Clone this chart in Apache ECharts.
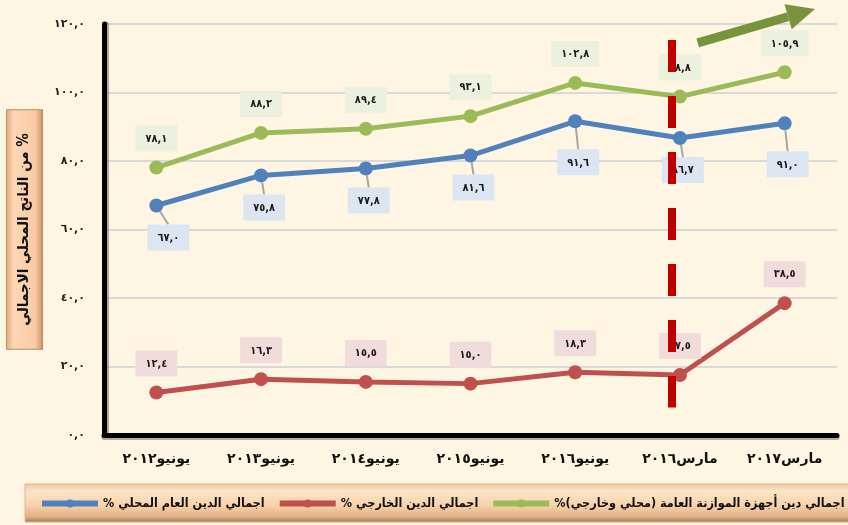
<!DOCTYPE html>
<html>
<head>
<meta charset="utf-8">
<script src="https://cdn.jsdelivr.net/npm/echarts@6/dist/echarts.min.js"></script>
<style>
html, body { margin: 0; padding: 0; background: #fef6e3; }
#chart { width: 848px; height: 525px; }
</style>
</head>
<body>
<div id="chart"></div>
<script>
const categories = ['يونيو٢٠١٢', 'يونيو٢٠١٣', 'يونيو٢٠١٤', 'يونيو٢٠١٥', 'يونيو٢٠١٦', 'مارس٢٠١٦', 'مارس٢٠١٧']
const localDebt = [67.0, 75.8, 77.8, 81.6, 91.6, 86.7, 91.0]
const externalDebt = [12.4, 16.3, 15.5, 15.0, 18.3, 17.5, 38.5]
const budgetDebt = [78.1, 88.2, 89.4, 93.1, 102.8, 98.8, 105.9]

const seriesNames = [
	'اجمالي الدين العام المحلي %',
	'اجمالي الدين الخارجي %',
	'اجمالي دين أجهزة الموازنة العامة (محلي وخارجي)%'
]
const axisTitle = 'من الناتج المحلي الاجمالي %'

// divider between the June series and the March series (category index units)
const dividerAt = 4.92
const font = '"DejaVu Sans Condensed", "DejaVu Sans"'
const wideFont = '"DejaVu Sans"'

function arabicDigits(str) {
	return String(str).replace(/[0-9]/g, d => '٠١٢٣٤٥٦٧٨٩'[d])
}

function fmt(value) {
	return arabicDigits(value.toFixed(1).replace('.', ','))
}

function labelStyle(bg, position) {
	return {
		show: true,
		position: position,
		distance: 9,
		formatter: p => fmt(p.value),
		backgroundColor: bg,
		padding: [8, 10, 7, 10],
		fontFamily: font,
		fontWeight: 'bold',
		fontSize: 11,
		color: '#1a1a1a'
	}
}

function lineSeries(name, data, color) {
	return {
		name: name,
		type: 'line',
		data: data,
		symbol: 'circle',
		symbolSize: 14,
		lineStyle: { color: color, width: 5 },
		itemStyle: { color: color },
		z: 3
	}
}

const chart = echarts.init(document.getElementById('chart'))

const blue = lineSeries(seriesNames[0], localDebt, '#4f81bd')
blue.label = labelStyle('#dce6f2', 'bottom')
blue.labelLayout = p => ({ dx: p.dataIndex === 0 ? 12 : 3, dy: (p.dataIndex === 4 || p.dataIndex === 6) ? 12 : 3 })
blue.labelLine = { show: true, lineStyle: { color: '#a6a6a6', width: 2 } }

const red = lineSeries(seriesNames[1], externalDebt, '#c0504d')
red.label = labelStyle('#f2dcdb', 'top')

const green = lineSeries(seriesNames[2], budgetDebt, '#9bbb59')
green.label = labelStyle('#ebf1de', 'top')

chart.setOption({
	backgroundColor: '#fef6e3',
	animation: false,
	textStyle: { fontFamily: font },
	grid: { left: 104, right: 11, top: 24, bottom: 90, outerBoundsMode: 'none' },
	legend: {
		data: seriesNames,
		formatter: name => name + '\u200F',
		left: 25,
		top: 484,
		width: 1400,
		padding: [13, 30, 12, 14],
		itemGap: 12,
		itemWidth: 56,
		itemHeight: 10,
		lineStyle: { width: 6 },
		backgroundColor: new echarts.graphic.LinearGradient(0, 0, 0, 1, [
			{ offset: 0, color: '#efc9a2' },
			{ offset: 0.2, color: '#fbe4c9' },
			{ offset: 0.55, color: '#f8d3ab' },
			{ offset: 0.85, color: '#e2b287' },
			{ offset: 1, color: '#9c7653' }
		]),
		borderColor: '#dcb68e',
		borderWidth: 1,
		textStyle: { fontFamily: font, fontWeight: 'bold', fontSize: 12.5, color: '#111' }
	},
	xAxis: [{
		type: 'category',
		data: categories,
		axisLine: { lineStyle: { color: '#000', width: 5, shadowColor: 'rgba(0,0,0,0.3)', shadowOffsetY: 2 } },
		axisTick: { show: false },
		axisLabel: { margin: 17, fontFamily: wideFont, fontWeight: 'bold', fontSize: 14, color: '#111' }
	}, {
		type: 'value',
		min: -0.5,
		max: 6.5,
		show: false
	}],
	yAxis: {
		type: 'value',
		min: 0,
		max: 120,
		interval: 20,
		name: axisTitle,
		nameLocation: 'middle',
		nameRotate: 90,
		nameGap: 61,
		nameTextStyle: {
			fontFamily: font,
			fontWeight: 'bold',
			fontSize: 15,
			color: '#111',
			padding: [10, 23, 10, 23],
			backgroundColor: new echarts.graphic.LinearGradient(0, 0, 0, 1, [
				{ offset: 0, color: '#e2a87c' },
				{ offset: 0.2, color: '#fcd7b6' },
				{ offset: 0.8, color: '#f9cba3' },
				{ offset: 1, color: '#c58f63' }
			]),
			borderColor: '#b98a60',
			borderWidth: 1
		},
		axisLine: { show: true, onZero: false, lineStyle: { color: '#000', width: 5, shadowColor: 'rgba(0,0,0,0.3)', shadowOffsetX: 2 } },
		axisTick: { show: false },
		splitLine: { lineStyle: { color: '#d9d9d9', width: 2 } },
		axisLabel: {
			margin: 19,
			formatter: v => fmt(v),
			fontFamily: wideFont,
			fontWeight: 'bold',
			fontSize: 11,
			color: '#222'
		}
	},
	series: [blue, red, green, {
		type: 'line',
		xAxisIndex: 1,
		data: [],
		z: 20,
		markLine: {
			silent: true,
			symbol: ['none', 'none'],
			label: { show: false },
			lineStyle: { color: '#c00000', width: 8, type: [32, 24], opacity: 1 },
			data: [[{ coord: [dividerAt, 115.3] }, { coord: [dividerAt, 8] }]]
		}
	}]
})

// trend arrow in the top right corner
const from = chart.convertToPixel({ xAxisIndex: 1, yAxisIndex: 0 }, [5.17, 114.5])
const tip = chart.convertToPixel({ xAxisIndex: 1, yAxisIndex: 0 }, [6.29, 124.4])
const dx = tip[0] - from[0]
const dy = tip[1] - from[1]
const len = Math.sqrt(dx * dx + dy * dy)
const ux = dx / len
const uy = dy / len
const base = [tip[0] - ux * 28, tip[1] - uy * 28]

chart.setOption({
	graphic: [{
		type: 'line',
		shape: { x1: from[0], y1: from[1], x2: base[0], y2: base[1] },
		style: { stroke: '#77933c', lineWidth: 9 },
		z: 30
	}, {
		type: 'polygon',
		shape: { points: [tip, [base[0] - uy * 13, base[1] + ux * 13], [base[0] + uy * 13, base[1] - ux * 13]] },
		style: { fill: '#77933c' },
		z: 30
	}]
})
</script>
</body>
</html>
